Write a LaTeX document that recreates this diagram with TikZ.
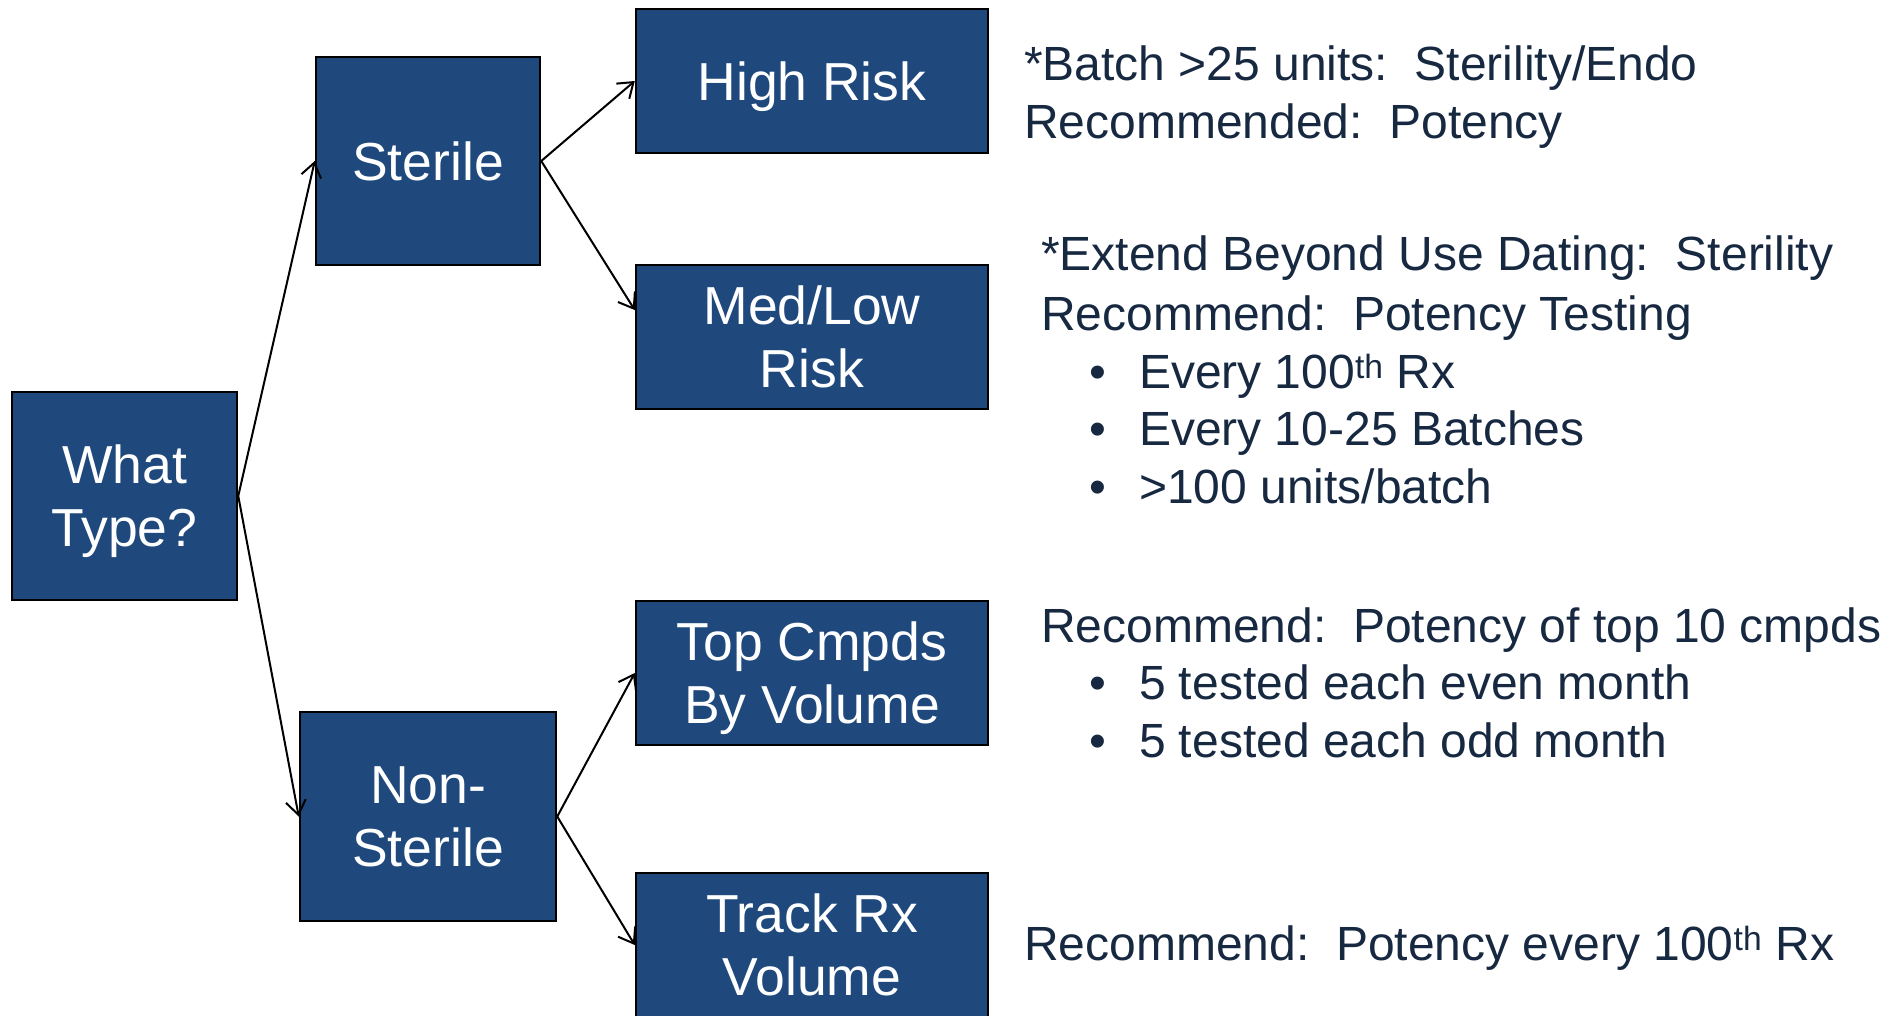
\documentclass[tikz,border=0pt]{standalone}
\usepackage{fontspec}
\setmainfont{Liberation Sans}
\usetikzlibrary{arrows.meta}
\definecolor{boxblue}{HTML}{1F497D}
\definecolor{notetext}{HTML}{172841}

\begin{document}
\begin{tikzpicture}[x=1pt,y=-1pt,line width=2pt,>={Straight Barb[length=14pt,width=20pt]}]
\tikzstyle{choice}=[draw=black,line width=2.5pt,fill=boxblue,text=white,align=center,
  inner sep=0pt,text depth=0pt,font=\fontsize{53.5}{63}\selectfont]
\tikzstyle{wide}=[choice,minimum width=352pt,minimum height=144pt]
\tikzstyle{note}=[anchor=base west,inner sep=0pt,text=notetext,font=\fontsize{48}{58}\selectfont]

\useasboundingbox (0,0) rectangle (1887,1015);

\node[choice,minimum width=225pt,minimum height=208pt] (WT) at (124.5,496) {What\\Type?};
\node[choice,minimum width=224pt,minimum height=208pt] (ST) at (428,161) {Sterile};
\node[choice,minimum width=256pt,minimum height=209pt] (NS) at (428,816.5) {Non-\\Sterile};

\node[wide] (HR) at (812,81) {High Risk};
\node[wide] (ML) at (812,337) {Med/Low\\Risk};
\node[wide] (TC) at (812,673) {Top Cmpds\\By Volume};
\node[wide] (TR) at (812,945) {Track Rx\\Volume};

% notes next to each box
\node[note] (hr1) at (1023,80) {*Batch >25 units:\ \ Sterility/Endo};
\node[note] (hr2) at (1023,138) {Recommended:\ \ Potency};

\node[note] (ml1) at (1040,270) {*Extend Beyond Use Dating:\ \ Sterility};
\node[note] (ml2) at (1040,330) {Recommend:\ \ Potency Testing};
\node[note] (mlb1) at (1088,388) {\textbullet};
\node[note] (ml3) at (1138,388) {Every 100\textsuperscript{th} Rx};
\node[note] (mlb2) at (1088,445) {\textbullet};
\node[note] (ml4) at (1138,445) {Every 10-25 Batches};
\node[note] (mlb3) at (1088,503) {\textbullet};
\node[note] (ml5) at (1138,503) {>100 units/batch};

\node[note] (tc1) at (1040,642) {Recommend:\ \ Potency of top 10 cmpds};
\node[note] (tcb1) at (1088,699) {\textbullet};
\node[note] (tc2) at (1138,699) {5 tested each even month};
\node[note] (tcb2) at (1088,757) {\textbullet};
\node[note] (tc3) at (1138,757) {5 tested each odd month};

\node[note] (tr1) at (1023,960) {Recommend:\ \ Potency every 100\textsuperscript{th} Rx};

\path[->] (WT.east) edge (ST.west);
\path[->] (WT.east) edge (NS.west);
\path[->] (ST.east) edge (HR.west);
\path[->] (ST.east) edge ([yshift=27pt]ML.west);
\path[->] (NS.east) edge (TC.west);
\path[->] (NS.east) edge (TR.west);

\end{tikzpicture}
\end{document}
